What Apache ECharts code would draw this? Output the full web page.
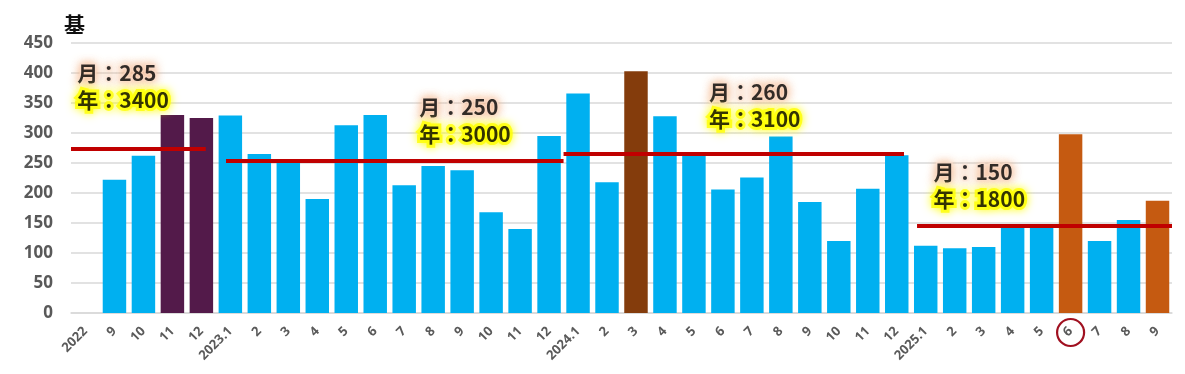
<!DOCTYPE html>
<html><head><meta charset="utf-8">
<script src="https://cdn.jsdelivr.net/npm/echarts@6/dist/echarts.min.js"></script>
<style>html,body{margin:0;padding:0;background:#fff}#c{width:1185px;height:374px}</style>
</head><body><div id="c"></div>
<script>
// ---- data ----
const categories = ['2022','9','10','11','12',
  '2023.1','2','3','4','5','6','7','8','9','10','11','12',
  '2024.1','2','3','4','5','6','7','8','9','10','11','12',
  '2025.1','2','3','4','5','6','7','8','9'];
const values = [null,222,262,330,325,
  329,265,250,190,313,330,213,245,238,168,140,295,
  366,218,403,328,264,206,226,294,185,120,207,263,
  112,108,110,143,143,298,120,155,187];
const yTicks = [0,50,100,150,200,250,300,350,400,450];
const periodLineLevel = [273,254,266,145];
const periodMonthly = [285,250,260,150];
const periodYearly = [3400,3000,3100,1800];
const circledCategoryIndex = 34;

// ---- styles / layout ----
const BLUE = '#00B0F0';
const specialColors = {3:'#531A4A',4:'#531A4A',19:'#843C0C',34:'#C55A11',37:'#C55A11'};
const lineStart = [-0.5, 4.85, 16.5, 28.7];
const lineEnd = [4.15, 16.5, 28.25, 37.5];
const labelAnchor = [[-0.3,377],[11.5,320],[21.5,346],[29.25,212]];

const chart = echarts.init(document.getElementById('c'));
const barData = values.map((v,i)=>({value:v,itemStyle:{color:specialColors[i]||BLUE}}));
const markLines = periodLineLevel.map((lv,i)=>[{coord:[lineStart[i],lv]},{coord:[lineEnd[i],lv]}]);
const labelData = labelAnchor.map((p,i)=>({value:p, m:periodMonthly[i], y:periodYearly[i]}));

chart.setOption({
  animation:false,
  title:{text:'基',left:59,top:9,textStyle:{fontSize:21,fontWeight:'bold',color:'#111',fontFamily:'Noto Sans CJK JP'}},
  grid:{left:71,right:13,top:43,bottom:61},
  xAxis:[{
    type:'category',data:categories,
    axisLine:{lineStyle:{color:'#D9D9D9',width:1.5}},
    axisTick:{show:false},
    axisLabel:{interval:0,rotate:45,margin:16,fontSize:13,fontWeight:'bold',color:'#5A5A5A',fontFamily:'Noto Sans'}
  },{
    type:'value',min:-0.5,max:37.5,show:false
  },{
    type:'category',data:categories,position:'bottom',
    axisLine:{show:false},axisTick:{show:false},splitLine:{show:false},
    axisLabel:{interval:0,rotate:0,margin:6,
      formatter:(v,i)=> i===circledCategoryIndex ? '{c| }' : '',
      rich:{c:{width:27,height:27,lineHeight:27,borderRadius:14,borderColor:'#A01020',borderWidth:2.2,align:'center'}}}
  }],
  yAxis:{type:'value',min:0,max:450,interval:50,
    axisLine:{show:false},axisTick:{show:false},
    splitLine:{lineStyle:{color:'#D9D9D9',width:1.5}},
    axisLabel:{fontSize:17,fontWeight:'bold',color:'#595959',margin:18,fontFamily:'Open Sans'}},
  series:[{
    type:'bar',data:barData,barCategoryGap:'19%',z:2
  },{
    type:'scatter',xAxisIndex:1,data:labelData,symbolSize:1,itemStyle:{color:'rgba(0,0,0,0)'},z:5,
    label:{show:true,position:'right',distance:0,align:'left',
      formatter:p=>'{m|月：'+p.data.m+'}\n{y|年：'+p.data.y+'}',
      rich:{
        m:{fontSize:21,fontWeight:'bold',color:'#000',lineHeight:27,fontFamily:'Noto Sans CJK JP',
          textBorderColor:'rgba(252,232,220,0.9)',textBorderWidth:3,textShadowColor:'#F4B183',textShadowBlur:10},
        y:{fontSize:21,fontWeight:'bold',color:'#000',lineHeight:27,fontFamily:'Noto Sans CJK JP',
          textBorderColor:'#FFFF00',textBorderWidth:6,textShadowColor:'#FFFF00',textShadowBlur:10}
      }},
    markLine:{silent:true,symbol:'none',z:4,label:{show:false},
      lineStyle:{color:'#C00000',width:4,type:'solid'},data:markLines}
  }]
});
</script></body></html>
